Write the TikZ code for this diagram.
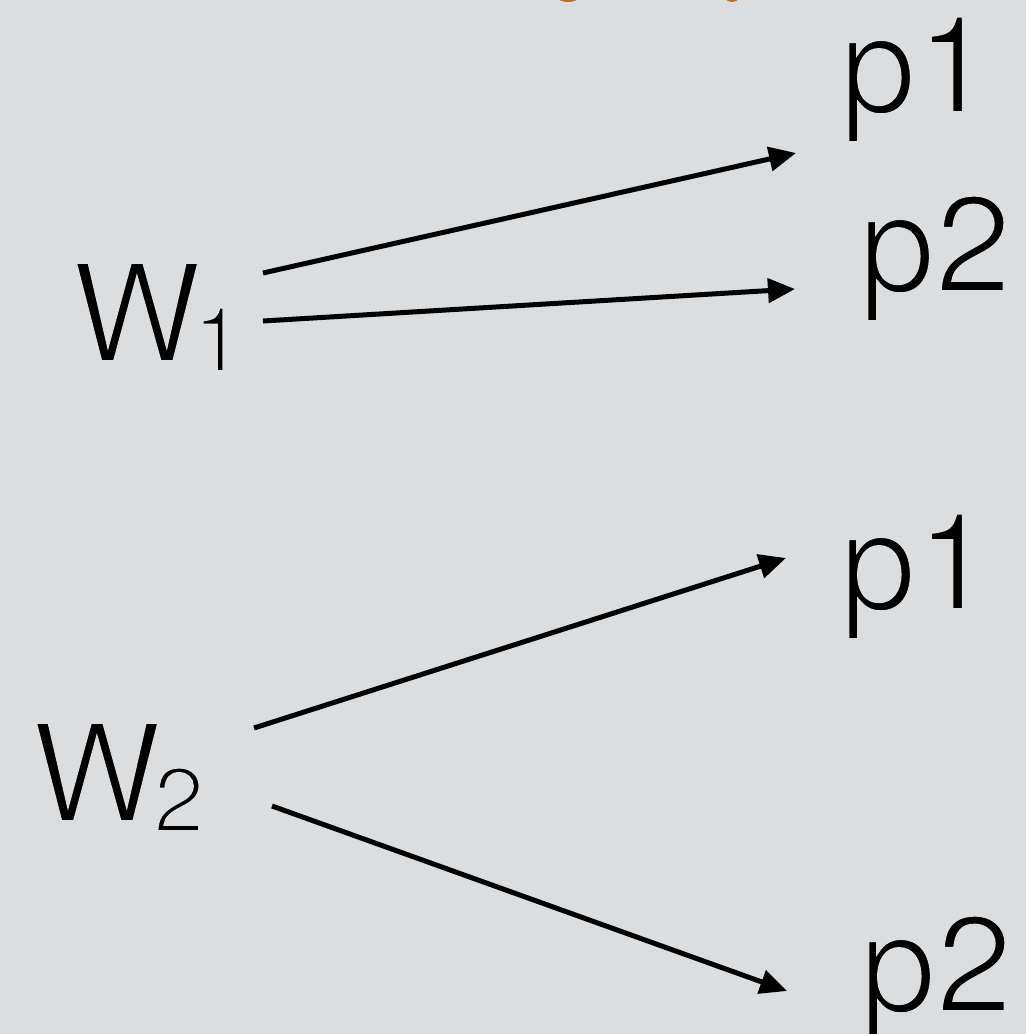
\documentclass[tikz,border=0pt]{standalone}
\usepackage{fontspec}
\setmainfont{TeX Gyre Heros}
\usetikzlibrary{arrows.meta}
\definecolor{bg}{RGB}{220,221,223}
\definecolor{titleorange}{RGB}{206,104,20}
% thin the glyphs: fill, then stroke the outline in the background colour
\newcommand{\thintext}[1]{\special{pdf:literal direct 2 Tr 3.6 w 0.8627 0.8667 0.8745 RG}#1\special{pdf:literal direct 0 Tr 1 w}}
\begin{document}
\begin{tikzpicture}[x=1pt,y=-1pt,
  lbl/.style={anchor=base west,inner sep=0pt,outer sep=0pt,font=\fontsize{137}{140}\selectfont},
  arr/.style={line width=5pt,-{Triangle[length=27pt,width=24pt]}}]
\fill[bg] (0,0) rectangle (1026,1034);
\useasboundingbox (0,0) rectangle (1026,1034);
% clipped orange title fragments at the top edge
\begin{scope}
\clip (0,0) rectangle (1026,1034);
\fill[titleorange] (568,-9) ellipse (15 and 11);
\fill[titleorange] (732,-9) ellipse (10 and 11);
\end{scope}
% nodes
\node[lbl] (w1) at (72,362) {\thintext{W\kern-9pt\raisebox{-10pt}{\fontsize{92}{92}\selectfont 1}}};
\node[lbl] (w2) at (32,822) {\thintext{W\kern-8pt\raisebox{-10pt}{\fontsize{92}{92}\selectfont 2}}};
\node[lbl] (p1a) at (840,113) {\thintext{p1}};
\node[lbl] (p2a) at (859,292) {\thintext{p2}};
\node[lbl] (p1b) at (840,610) {\thintext{p1}};
\node[lbl] (p2b) at (860,1012) {\thintext{p2}};
% connector end points
\coordinate (s1) at (263,273);
\coordinate (e1) at (796,153);
\coordinate (s2) at (263,321);
\coordinate (e2) at (795,289);
\coordinate (s3) at (254,728);
\coordinate (e3) at (786,558);
\coordinate (s4) at (272,806);
\coordinate (e4) at (787,991);
\draw[arr] (s1) -- (e1);
\draw[arr] (s2) -- (e2);
\draw[arr] (s3) -- (e3);
\draw[arr] (s4) -- (e4);
\end{tikzpicture}
\end{document}
